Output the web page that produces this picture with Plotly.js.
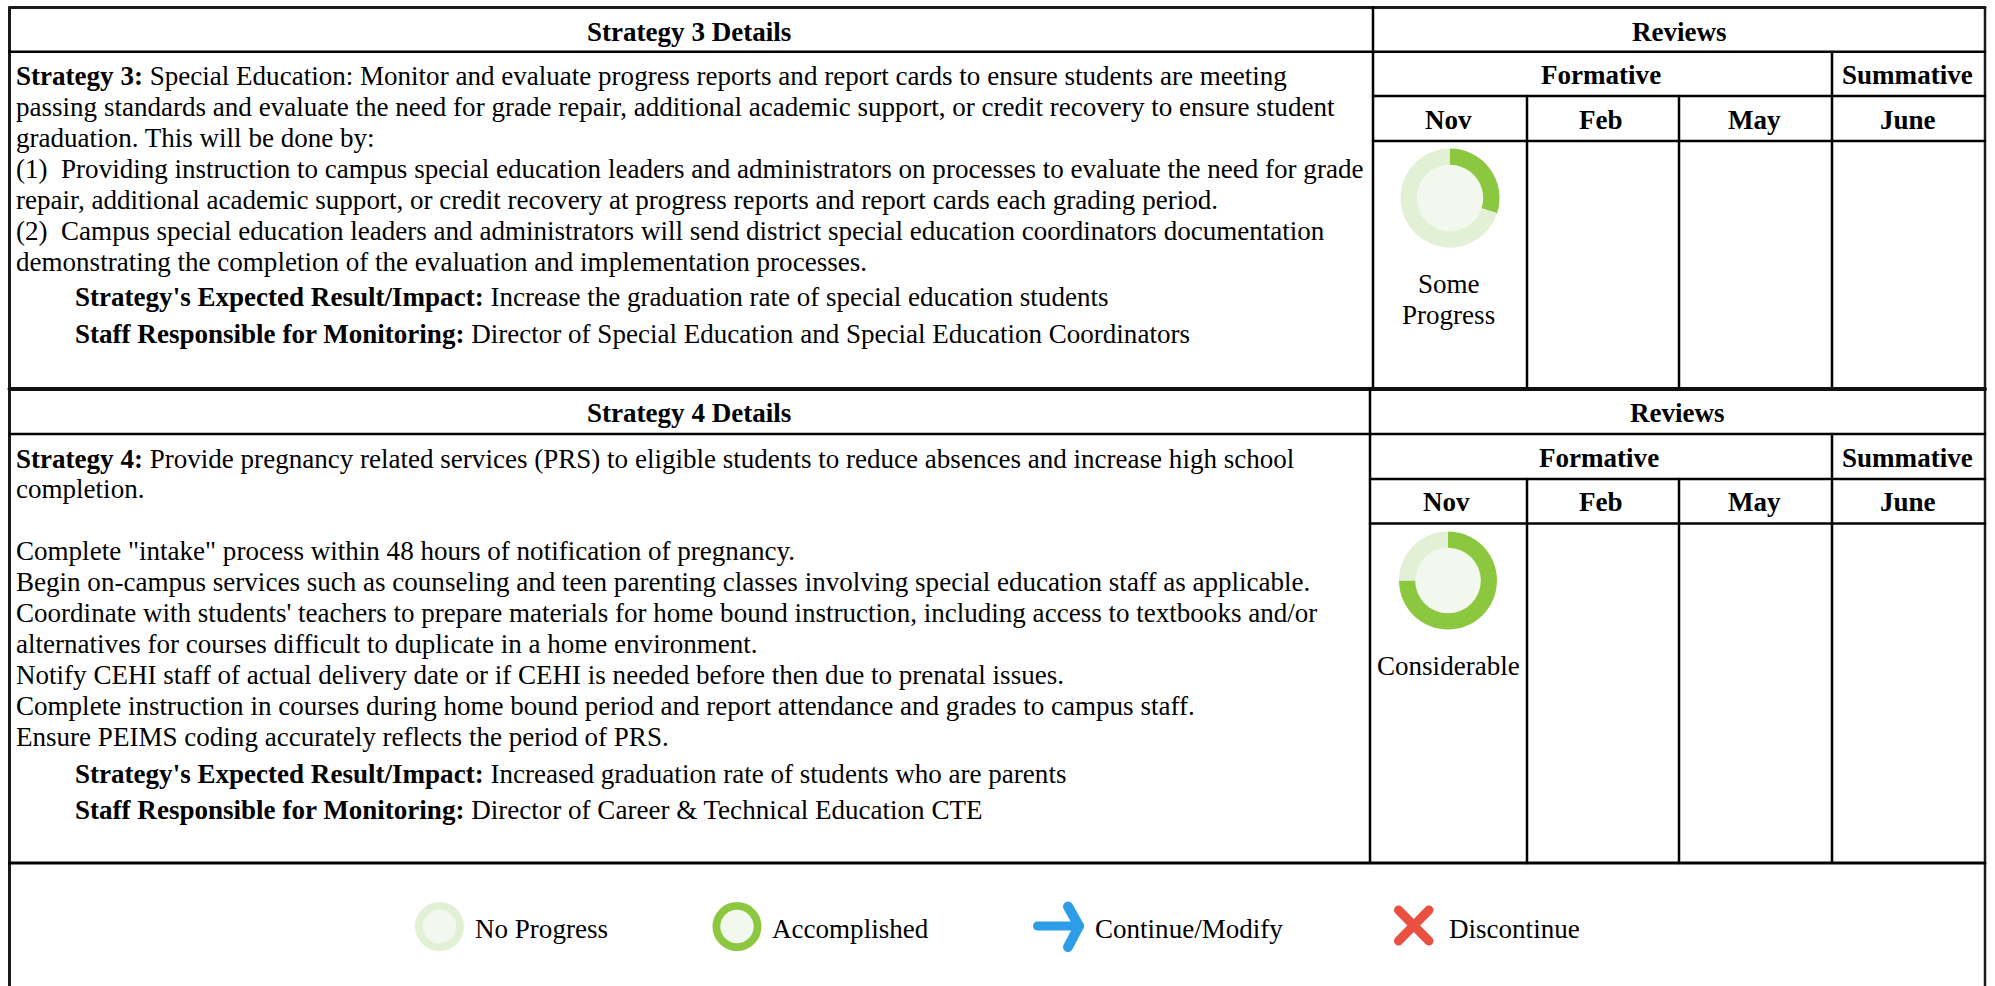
<!DOCTYPE html>
<html>
<head>
<meta charset="utf-8">
<script src="https://cdn.plot.ly/plotly-3.0.1.min.js"></script>
<style>
html,body{margin:0;padding:0;background:#fff;overflow:hidden}
#chart{width:1995px;height:986px}
.shapelayer path{stroke-linecap:round}
</style>
</head>
<body>
<div id="chart"></div>
<script>
// ---------- content ----------
var strategy3Lines = [
  "<b>Strategy 3:</b> Special Education: Monitor and evaluate progress reports and report cards to ensure students are meeting",
  "passing standards and evaluate the need for grade repair, additional academic support, or credit recovery to ensure student",
  "graduation. This will be done by:",
  "(1)  Providing instruction to campus special education leaders and administrators on processes to evaluate the need for grade",
  "repair, additional academic support, or credit recovery at progress reports and report cards each grading period.",
  "(2)  Campus special education leaders and administrators will send district special education coordinators documentation",
  "demonstrating the completion of the evaluation and implementation processes."
];
var strategy3Result = "<b>Strategy's Expected Result/Impact:</b> Increase the graduation rate of special education students";
var strategy3Staff = "<b>Staff Responsible for Monitoring:</b> Director of Special Education and Special Education Coordinators";
var strategy4Lines = [
  "<b>Strategy 4:</b> Provide pregnancy related services (PRS) to eligible students to reduce absences and increase high school",
  "completion.",
  "Complete \"intake\" process within 48 hours of notification of pregnancy.",
  "Begin on-campus services such as counseling and teen parenting classes involving special education staff as applicable.",
  "Coordinate with students' teachers to prepare materials for home bound instruction, including access to textbooks and/or",
  "alternatives for courses difficult to duplicate in a home environment.",
  "Notify CEHI staff of actual delivery date or if CEHI is needed before then due to prenatal issues.",
  "Complete instruction in courses during home bound period and report attendance and grades to campus staff.",
  "Ensure PEIMS coding accurately reflects the period of PRS."
];
var strategy4Result = "<b>Strategy's Expected Result/Impact:</b> Increased graduation rate of students who are parents";
var strategy4Staff = "<b>Staff Responsible for Monitoring:</b> Director of Career &amp; Technical Education CTE";
var monthLabels = ["Nov", "Feb", "May", "June"];
var legendLabels = ["No Progress", "Accomplished", "Continue/Modify", "Discontinue"];
// progress donuts: [done, remaining]
var someProgress = [30, 70];
var considerable = [75, 25];
var noProgress = [0, 100];
var accomplished = [100, 0];

// ---------- layout helpers ----------
var W = 1995, H = 986, FS = 27.05, FONT = "Liberation Serif, Times New Roman, serif";
var GREEN = "#8cc83f", PALE = "#e2f0d6", CORE = "#f2f8ed", BLUE = "#2d9de8", RED = "#e9503f";
function X(p){return p/W;}
function Y(p){return 1-p/H;}
var shapes = [], annotations = [], traces = [];
function line(x0,y0,x1,y1,w,c){
  shapes.push({type:"line",xref:"paper",yref:"paper",x0:X(x0),y0:Y(y0),x1:X(x1),y1:Y(y1),
    line:{color:c||"#000",width:w||2.5},layer:"above"});
}
function text(t,x,y,anchor,size){
  annotations.push({text:t,xref:"paper",yref:"paper",x:X(x),y:Y(y),xanchor:anchor||"left",yanchor:"middle",
    showarrow:false,align:anchor||"left",borderpad:0,font:{family:FONT,size:size||FS,color:"#000"}});
}
function donut(values,cx,cy,d,hole){
  var r = d*hole/2;
  shapes.push({type:"circle",xref:"paper",yref:"paper",layer:"below",x0:X(cx-r),x1:X(cx+r),y0:Y(cy+r),y1:Y(cy-r),
    fillcolor:CORE,line:{width:0}});
  traces.push({type:"pie",values:values,hole:hole,sort:false,direction:"clockwise",rotation:0,
    textinfo:"none",hoverinfo:"skip",showlegend:false,marker:{colors:[GREEN,PALE],line:{width:0}},
    domain:{x:[X(cx-d/2),X(cx+d/2)],y:[Y(cy+d/2),Y(cy-d/2)]}});
}

// ---------- grid ----------
var L = 9.5, R = 1985, cols = [1527, 1679, 1832];
// outer frame
line(L,7.5,R,7.5,3,"#1a1a1a");
line(L,7.5,L,H+5,3,"#1a1a1a");
line(R,7.5,R,H+5,2.5,"#1a1a1a");
// table 1
line(L,51.7,R,51.7);
line(1373,96,R,96);
line(1373,141,R,141);
line(1373,7.5,1373,389);
line(cols[2],52,cols[2],389);
line(cols[0],96,cols[0],389);
line(cols[1],96,cols[1],389);
// divider between tables
line(L,389,R,389,4,"#111");
// table 2
line(L,434,R,434);
line(1370,479,R,479);
line(1370,523.5,R,523.5);
line(1370,389,1370,863);
line(cols[2],434,cols[2],863);
line(cols[0],479,cols[0],863);
line(cols[1],479,cols[1],863);
line(L,863,R,863,3);

// ---------- text ----------
var bodyX = 15, indentX = 74;
text("<b>Strategy 3 Details</b>",689,32,"center");
text("<b>Reviews</b>",1679,32,"center");
text("<b>Formative</b>",1601,75,"center");
text("<b>Summative</b>",1907,75,"center");
[1448,1601,1754,1908].forEach(function(x,i){text("<b>"+monthLabels[i]+"</b>",x,120,"center");});
var y3 = [76,107,138,169,200,231,262];
strategy3Lines.forEach(function(t,i){text(t,bodyX,y3[i]);});
text(strategy3Result,indentX,297);
text(strategy3Staff,indentX,334);
text("Some",1448.5,284,"center");
text("Progress",1448.5,315,"center");

text("<b>Strategy 4 Details</b>",688.5,413,"center");
text("<b>Reviews</b>",1677,413,"center");
text("<b>Formative</b>",1599,458,"center");
text("<b>Summative</b>",1907,458,"center");
[1446,1601,1754,1908].forEach(function(x,i){text("<b>"+monthLabels[i]+"</b>",x,502,"center");});
var y4 = [459,489,551,582,613,644,675,706,737];
strategy4Lines.forEach(function(t,i){text(t,bodyX,y4[i]);});
text(strategy4Result,indentX,774);
text(strategy4Staff,indentX,810);
text("Considerable",1448.5,666,"center");

// ---------- donuts ----------
donut(someProgress,1450,198,99,0.67);
donut(considerable,1448,580.5,98,0.67);

// ---------- legend ----------
donut(noProgress,439.5,926.5,49,0.68);
donut(accomplished,737,926.5,49,0.68);
[[473.5,legendLabels[0]],[770.5,legendLabels[1]],[1093.5,legendLabels[2]],[1447.5,legendLabels[3]]].forEach(function(p){
  text(p[1],p[0],929);
});
// arrow
line(1037.5,926,1078,926,9,BLUE);
line(1068,906.5,1079,926,10,BLUE);
line(1068,947,1079,926,10,BLUE);
// cross
line(1398.5,910,1429,941,9,RED);
line(1429,910,1398.5,941,9,RED);

Plotly.newPlot("chart",traces,{
  width:W,height:H,margin:{l:0,r:0,t:0,b:0,pad:0},
  paper_bgcolor:"#fff",plot_bgcolor:"#fff",showlegend:false,
  shapes:shapes,annotations:annotations
},{displayModeBar:false,responsive:false});
</script>
</body>
</html>
